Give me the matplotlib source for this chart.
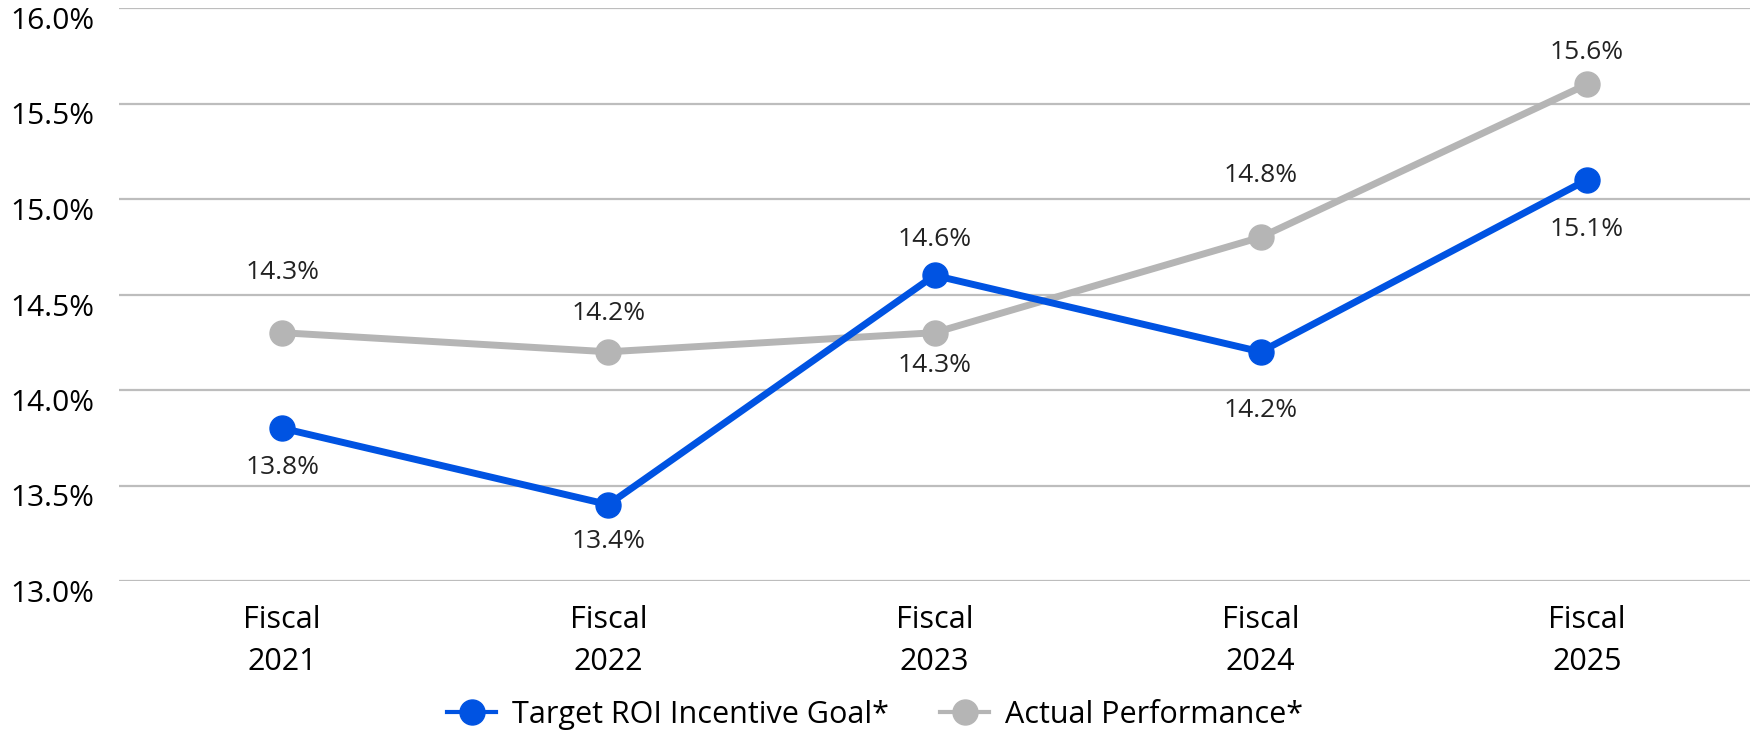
import matplotlib
matplotlib.use("Agg")
import matplotlib.pyplot as plt
from matplotlib.lines import Line2D
from matplotlib.transforms import ScaledTranslation

plt.rcParams['font.family'] = ['Open Sans', 'DejaVu Sans']

categories = ["Fiscal\n2021", "Fiscal\n2022", "Fiscal\n2023", "Fiscal\n2024", "Fiscal\n2025"]
target = [13.8, 13.4, 14.6, 14.2, 15.1]
actual = [14.3, 14.2, 14.3, 14.8, 15.6]
series_names = ["Target ROI Incentive Goal*", "Actual Performance*"]
yticks = [13.0, 13.5, 14.0, 14.5, 15.0, 15.5, 16.0]

# label offsets in pixels (positive = up)
target_off = [-39, -37, 36, -59, -50]
actual_off = [60, 38, -33, 62, 32]

BLUE = "#0053E2"
GREY = "#B5B5B5"

fig = plt.figure(figsize=(17.5, 7.38), dpi=100)
ax = fig.add_axes([119/1750, 1-581/738, 1-119/1750, (581-8)/738])

x = list(range(len(categories)))
ax.plot(x, actual, color=GREY, lw=5, marker='o', ms=18, zorder=3, solid_capstyle='round')
ax.plot(x, target, color=BLUE, lw=5, marker='o', ms=18, zorder=4, solid_capstyle='round')

for xi, v, o in zip(x, target, target_off):
    ax.annotate(f"{v:.1f}%", (xi, v), xytext=(0, o*0.72), textcoords='offset points',
                ha='center', va='center', fontsize=19, color='#222222')
for xi, v, o in zip(x, actual, actual_off):
    ax.annotate(f"{v:.1f}%", (xi, v), xytext=(0, o*0.72), textcoords='offset points',
                ha='center', va='center', fontsize=19, color='#222222')

ax.set_xlim(-0.5, len(categories) - 0.5)
ax.set_ylim(13.0, 16.0)
ax.set_yticks(yticks)
ax.set_yticklabels([f"{t:.1f}%" for t in yticks], fontsize=21.5, color='black')
ax.set_xticks(x)
ax.set_xticklabels(categories, fontsize=22, color='black', linespacing=1.55)
ax.tick_params(axis='both', length=0)
ax.tick_params(axis='y', pad=18)
ax.tick_params(axis='x', pad=17)
for lab in ax.get_yticklabels():
    lab.set_transform(lab.get_transform() + ScaledTranslation(0, -10/100, fig.dpi_scale_trans))
ax.grid(axis='y', color='#BDBDBD', lw=1.6)
ax.set_axisbelow(True)
for s in ax.spines.values():
    s.set_visible(False)

handles = [Line2D([0], [0], color=BLUE, lw=3, marker='o', ms=18),
           Line2D([0], [0], color=GREY, lw=3, marker='o', ms=18)]
fig.legend(handles, series_names, loc='center', bbox_to_anchor=(0.5, 1-715/738),
           ncol=2, frameon=False, fontsize=22, handlelength=1.6, handletextpad=0.5,
           columnspacing=1.7, borderpad=0)

fig.savefig("out.png", dpi=100)
